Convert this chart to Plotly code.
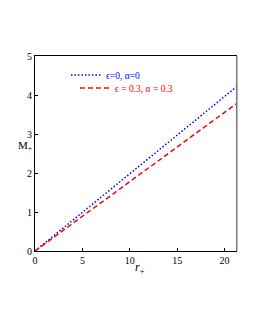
import plotly.graph_objects as go

r_vals = [0, 5, 10, 15, 20, 21.2]
m_eps0 = [0, 0.99, 1.98, 2.97, 3.96, 4.2]
m_eps03 = [0, 0.89, 1.78, 2.67, 3.56, 3.77]
name_a = "<span style='color:blue'>ϵ=0, α=0</span>"
name_b = "<span style='color:red'>ϵ = 0.3, α = 0.3</span>"
x_ticks = [0, 5, 10, 15, 20]
y_ticks = [0, 1, 2, 3, 4, 5]

fig = go.Figure()
fig.add_trace(go.Scatter(x=r_vals, y=m_eps0, mode="lines", name=name_a, legend="legend",
                         line=dict(color="blue", dash="1.5px,2px", width=1.5)))
fig.add_trace(go.Scatter(x=r_vals, y=m_eps03, mode="lines", name=name_b, legend="legend2",
                         line=dict(color="red", dash="5px,3px", width=1.5)))

font = "Liberation Serif, Times New Roman, serif"
leg_common = dict(xanchor="left", yanchor="middle", bgcolor="rgba(0,0,0,0)",
                  font=dict(family=font, size=9.5), itemwidth=30)
fig.update_layout(
    width=247, height=322,
    margin=dict(l=27, r=19, t=48, b=79, autoexpand=False),
    paper_bgcolor="white", plot_bgcolor="white",
    font=dict(family=font, size=10, color="black"),
    showlegend=True,
    legend=dict(x=0.154, y=0.903, **leg_common),
    legend2=dict(x=0.199, y=0.836, **leg_common),
    xaxis=dict(range=[0, 21.2], tickvals=x_ticks, showgrid=False, zeroline=False,
               showline=True, linecolor="black", linewidth=1, mirror=True,
               ticks="inside", ticklen=3, tickcolor="black", automargin=False),
    yaxis=dict(range=[0, 5], tickvals=y_ticks, showgrid=False, zeroline=False,
               showline=True, linecolor="black", linewidth=1, mirror=True,
               ticks="inside", ticklen=3, tickcolor="black", automargin=False),
    annotations=[
        dict(text="M<sub>+</sub>", xref="paper", yref="paper", x=-0.095, y=0.54,
             showarrow=False, font=dict(family=font, size=11)),
        dict(text="<i>r</i><sub>+</sub>", xref="paper", yref="paper", x=0.52, y=-0.14,
             showarrow=False, font=dict(family=font, size=12)),
    ],
)
fig.add_shape(type="line", xref="paper", yref="paper", x0=1.004, x1=1.004, y0=0, y1=1,
              line=dict(color="gray", width=1.5))
fig.write_html("out.html")
